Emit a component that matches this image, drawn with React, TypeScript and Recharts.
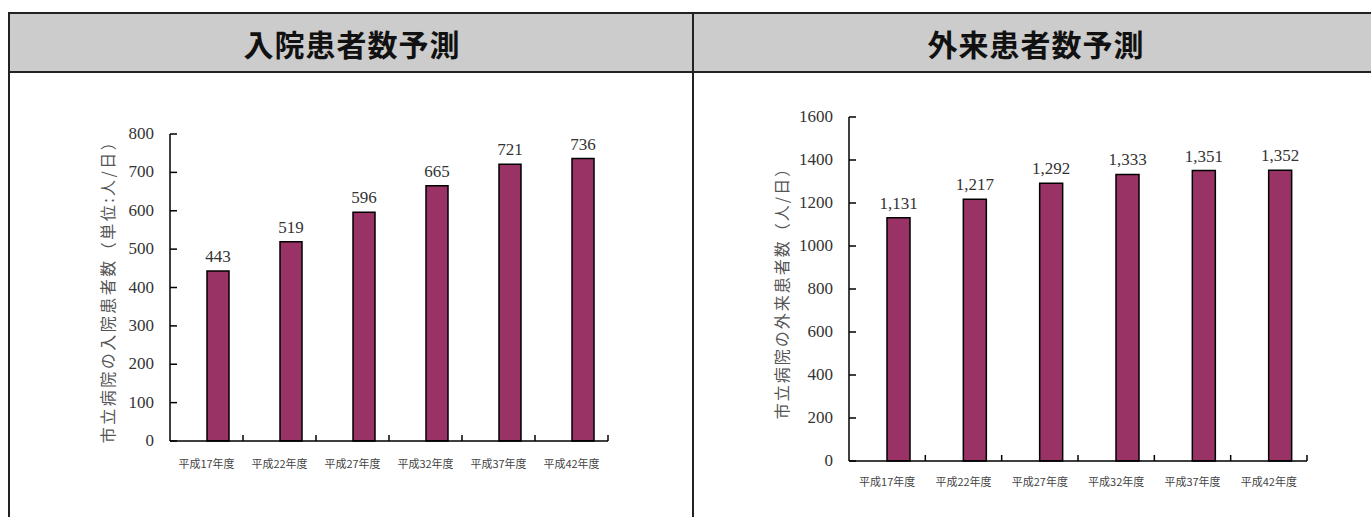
import React from 'react';
import { BarChart, Bar, XAxis, YAxis, LabelList, Label } from 'recharts';

const categories = ['平成17年度', '平成22年度', '平成27年度', '平成32年度', '平成37年度', '平成42年度'];
const inpatients = [443, 519, 596, 665, 721, 736];
const outpatients = [1131, 1217, 1292, 1333, 1351, 1352];
const inpatientTicks = [0, 100, 200, 300, 400, 500, 600, 700, 800];
const outpatientTicks = [0, 200, 400, 600, 800, 1000, 1200, 1400, 1600];

const inpatientData = categories.map((category, i) => ({ category, value: inpatients[i] }));
const outpatientData = categories.map((category, i) => ({ category, value: outpatients[i] }));

const BAR = '#993366';
const SERIF = '"Liberation Serif", "DejaVu Serif", serif';
const CJK = '"Noto Sans CJK JP", "Noto Sans", sans-serif';
const Y_GAP = 16;

// category labels below the axis, plus the small inward tick at each category's right edge
const CategoryTick = (props: any) => {
  const { x, y, payload, labelGap, half } = props;
  const off = payload && payload.offset ? payload.offset : half;
  return (
    <g>
      <line x1={x + off} x2={x + off} y1={y} y2={y - 6} stroke="#000" strokeWidth={1.5} />
      <text x={x} y={y + labelGap} textAnchor="middle" fontSize={11} fill="#444" fontFamily={CJK}>
        {payload.value}
      </text>
    </g>
  );
};

// value ticks with the tick mark pointing into the plot
const ValueTick = (props: any) => {
  const { x, y, payload } = props;
  return (
    <g>
      <line x1={x + Y_GAP} x2={x + Y_GAP + 7} y1={y} y2={y} stroke="#000" strokeWidth={1.5} />
      <text x={x} y={y} dy={5} textAnchor="end" fontSize={17} fill="#333" fontFamily={SERIF}>
        {payload.value}
      </text>
    </g>
  );
};

interface PanelProps {
  data: { category: string; value: number }[];
  ticks: number[];
  max: number;
  axisLabel: string;
  labelSpacing: number;
  barSize: number;
  labelGap: number;
  labelOffset: number;
  width: number;
  height: number;
  margin: { top: number; right: number; left: number; bottom: number };
  yWidth: number;
  comma?: boolean;
}

const Panel: React.FC<PanelProps> = ({ data, ticks, max, axisLabel, labelSpacing, barSize, labelGap, labelOffset, width, height, margin, yWidth, comma }) => {
  const half = (width - margin.left - margin.right - yWidth) / data.length / 2;
  return (
    <BarChart width={width} height={height} data={data} margin={margin} barGap={0}>
      <XAxis
        dataKey="category"
        height={40}
        axisLine={{ stroke: '#000', strokeWidth: 1.5 }}
        tickLine={false}
        tickSize={0}
        tickMargin={0}
        interval={0}
        tick={<CategoryTick labelGap={labelGap} half={half} />}
      />
      <YAxis
        width={yWidth}
        domain={[0, max]}
        ticks={ticks}
        interval={0}
        axisLine={{ stroke: '#000', strokeWidth: 1.5 }}
        tickLine={false}
        tickSize={0}
        tickMargin={Y_GAP}
        tick={<ValueTick />}
      >
        <Label
          value={axisLabel}
          angle={-90}
          position="insideLeft"
          offset={labelOffset}
          style={{ textAnchor: 'middle', fontSize: 16, letterSpacing: labelSpacing, fill: '#555', fontFamily: CJK }}
        />
      </YAxis>
      <Bar dataKey="blank" barSize={barSize} fill="none" isAnimationActive={false} />
      <Bar dataKey="value" barSize={barSize} fill={BAR} stroke="#000" strokeWidth={1.5} isAnimationActive={false}>
        <LabelList
          dataKey="value"
          position="top"
          offset={9}
          formatter={(v: any) => (comma ? Number(v).toLocaleString('en-US') : String(v))}
          style={{ fontSize: 17, fill: '#333', fontFamily: SERIF }}
        />
      </Bar>
    </BarChart>
  );
};

const line = '#222';
const titleStyle: React.CSSProperties = {
  position: 'absolute',
  top: 14,
  width: 682,
  height: 57,
  display: 'flex',
  alignItems: 'center',
  justifyContent: 'center',
  fontFamily: CJK,
  fontWeight: 'bold',
  fontSize: 30,
  letterSpacing: 1,
  color: '#111',
};

export default function App() {
  return (
    <div style={{ position: 'absolute', left: 0, top: 0, width: 1371, height: 517, background: '#fff', overflow: 'hidden' }}>
      {/* table frame */}
      <div style={{ position: 'absolute', left: 8, top: 12, width: 1380, height: 57, background: '#cccccc', borderTop: `2px solid ${line}`, borderBottom: `2px solid ${line}` }} />
      <div style={{ position: 'absolute', left: 8, top: 12, width: 2, height: 520, background: line }} />
      <div style={{ position: 'absolute', left: 692, top: 12, width: 2, height: 520, background: line }} />
      <div style={{ ...titleStyle, left: 11 }}>入院患者数予測</div>
      <div style={{ ...titleStyle, left: 695 }}>外来患者数予測</div>

      <div style={{ position: 'absolute', left: 60, top: 100 }}>
        <Panel
          data={inpatientData}
          ticks={inpatientTicks}
          max={800}
          axisLabel="市立病院の入院患者数（単位:人/日）"
          labelSpacing={2.5}
          barSize={22}
          labelGap={27}
          labelOffset={48}
          width={600}
          height={400}
          margin={{ top: 34, right: 52, left: 0, bottom: 19 }}
          yWidth={110}
        />
      </div>
      <div style={{ position: 'absolute', left: 740, top: 90 }}>
        <Panel
          data={outpatientData}
          ticks={outpatientTicks}
          max={1600}
          axisLabel="市立病院の外来患者数（人/日）"
          labelSpacing={2}
          barSize={23}
          labelGap={25}
          labelOffset={42}
          width={600}
          height={420}
          margin={{ top: 27, right: 33, left: 0, bottom: 9 }}
          yWidth={109}
          comma
        />
      </div>
    </div>
  );
}
